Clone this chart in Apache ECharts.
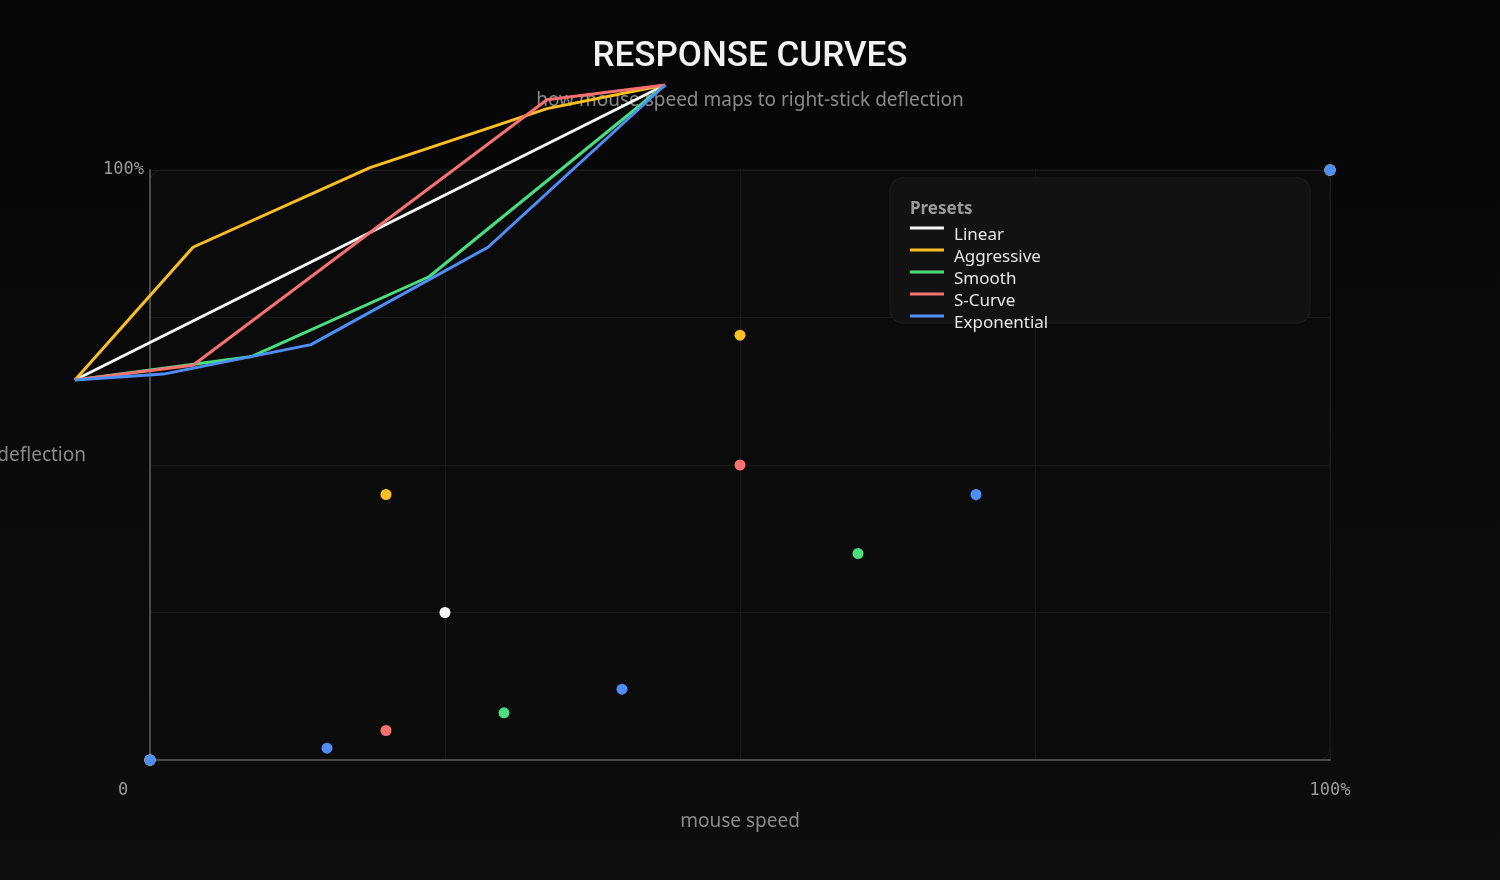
<!DOCTYPE html>
<html>
<head>
<meta charset="utf-8">
<script src="https://cdn.jsdelivr.net/npm/echarts@6/dist/echarts.min.js"></script>
<style>
html,body{margin:0;padding:0;background:#070707;}
#chart{width:1500px;height:880px;}
</style>
</head>
<body>
<div id="chart"></div>
<script>
const seriesNames = ['Linear', 'Aggressive', 'Smooth', 'S-Curve', 'Exponential'];
const seriesColors = ['#f5f5f5', '#fbbf24', '#4ade80', '#f87171', '#4f8ef7'];
const linearPts = [[0, 0], [0.25, 0.25], [1, 1]];
const aggressivePts = [[0, 0], [0.2, 0.45], [0.5, 0.72], [0.8, 0.92], [1, 1]];
const smoothPts = [[0, 0], [0.3, 0.08], [0.6, 0.35], [1, 1]];
const sCurvePts = [[0, 0], [0.2, 0.05], [0.5, 0.5], [0.8, 0.95], [1, 1]];
const exponentialPts = [[0, 0], [0.15, 0.02], [0.4, 0.12], [0.7, 0.45], [1, 1]];
const allPts = [linearPts, aggressivePts, smoothPts, sCurvePts, exponentialPts];
const axisTicks = [0, 0.25, 0.5, 0.75, 1];
const tickText = {0: '0', 1: '100%'};

const chart = echarts.init(document.getElementById('chart'));
const monoFont = '"DejaVu Sans Mono", monospace';
const bodyFont = '"Noto Sans", "Open Sans", sans-serif';

const series = [];
seriesNames.forEach((name, i) => {
  series.push({
    name: name, type: 'line', xAxisIndex: 1, yAxisIndex: 1,
    data: allPts[i], showSymbol: false, symbol: 'none', z: 8,
    lineStyle: {color: seriesColors[i], width: 3}, itemStyle: {color: seriesColors[i]}
  });
});
seriesNames.forEach((name, i) => {
  series.push({
    name: name, type: 'scatter', xAxisIndex: 0, yAxisIndex: 0,
    data: allPts[i], symbolSize: 11, z: 3,
    itemStyle: {color: seriesColors[i], opacity: 1}
  });
});

chart.setOption({
  backgroundColor: {
    type: 'linear', x: 0, y: 0, x2: 0, y2: 1,
    colorStops: [{offset: 0, color: '#060606'}, {offset: 1, color: '#0d0d0d'}]
  },
  animation: false,
  title: {
    text: 'RESPONSE CURVES',
    subtext: 'how mouse speed maps to right-stick deflection',
    left: 'center', top: 35, itemGap: 16,
    textStyle: {color: '#f2f2f2', fontSize: 35, fontWeight: 500, fontFamily: 'Roboto, sans-serif'},
    subtextStyle: {color: '#8a8a8a', fontSize: 19, fontFamily: bodyFont}
  },
  graphic: [
    {type: 'rect', z: -1, silent: true,
     shape: {x: 150, y: 170, width: 1180, height: 590, r: 12},
     style: {fill: '#0b0b0b', stroke: '#1c1c1c', lineWidth: 1}},
    {type: 'rect', z: 6, silent: true,
     shape: {x: 890, y: 178, width: 420, height: 145, r: 12},
     style: {fill: '#121212', stroke: '#1f1f1f', lineWidth: 1}},
    {type: 'text', z: 7, silent: true, left: 910, top: 201,
     style: {text: 'Presets', fill: '#9a9a9a', font: 'bold 17px "Noto Sans", sans-serif'}}
  ],
  legend: {
    data: seriesNames, orient: 'vertical', left: 910, top: 226.5, z: 8, padding: 0,
    icon: 'path://M0,0H34V3H0Z M0,17H0.01V17.01H0Z',
    itemWidth: 34, itemHeight: 17, itemGap: 5,
    textStyle: {color: '#e6e6e6', fontSize: 17, fontFamily: bodyFont, padding: [2, 0, 0, 5]},
    selectedMode: true
  },
  grid: [
    {left: 150, top: 170, width: 1180, height: 590, outerBoundsMode: 'none', containLabel: false},
    {left: 75, top: 85, width: 590, height: 295, outerBoundsMode: 'none', containLabel: false}
  ],
  xAxis: [
    {type: 'value', gridIndex: 0, min: 0, max: 1, interval: 0.25,
     name: 'mouse speed', nameLocation: 'middle', nameGap: 52,
     nameTextStyle: {color: '#8a8a8a', fontSize: 19, fontFamily: bodyFont},
     axisLine: {show: true, lineStyle: {color: '#4a4a4a', width: 2}},
     axisTick: {show: false},
     splitLine: {show: true, lineStyle: {color: '#191919', width: 1}},
     axisLabel: {
       margin: 22, color: '#9a9a9a', fontSize: 17, fontFamily: monoFont,
       formatter: v => v === 0 ? '{z|' + tickText[0] + '}' : (v === 1 ? tickText[1] : ''),
       rich: {z: {color: '#9a9a9a', fontSize: 17, fontFamily: monoFont, padding: [0, 54, 0, 0]}}
     }},
    {type: 'value', gridIndex: 1, min: 0, max: 1, show: false}
  ],
  yAxis: [
    {type: 'value', gridIndex: 0, min: 0, max: 1, interval: 0.25,
     name: 'deflection', nameLocation: 'middle', nameRotate: 0, nameGap: 64,
     nameTextStyle: {color: '#8a8a8a', fontSize: 19, fontFamily: bodyFont, verticalAlign: 'bottom'},
     axisLine: {show: true, lineStyle: {color: '#4a4a4a', width: 2}},
     axisTick: {show: false},
     splitLine: {show: true, lineStyle: {color: '#191919', width: 1}},
     axisLabel: {
       margin: 6, color: '#9a9a9a', fontSize: 17, fontFamily: monoFont,
       formatter: v => v === 1 ? tickText[1] : ''
     }},
    {type: 'value', gridIndex: 1, min: 0, max: 1, show: false}
  ],
  series: series
});
</script>
</body>
</html>
